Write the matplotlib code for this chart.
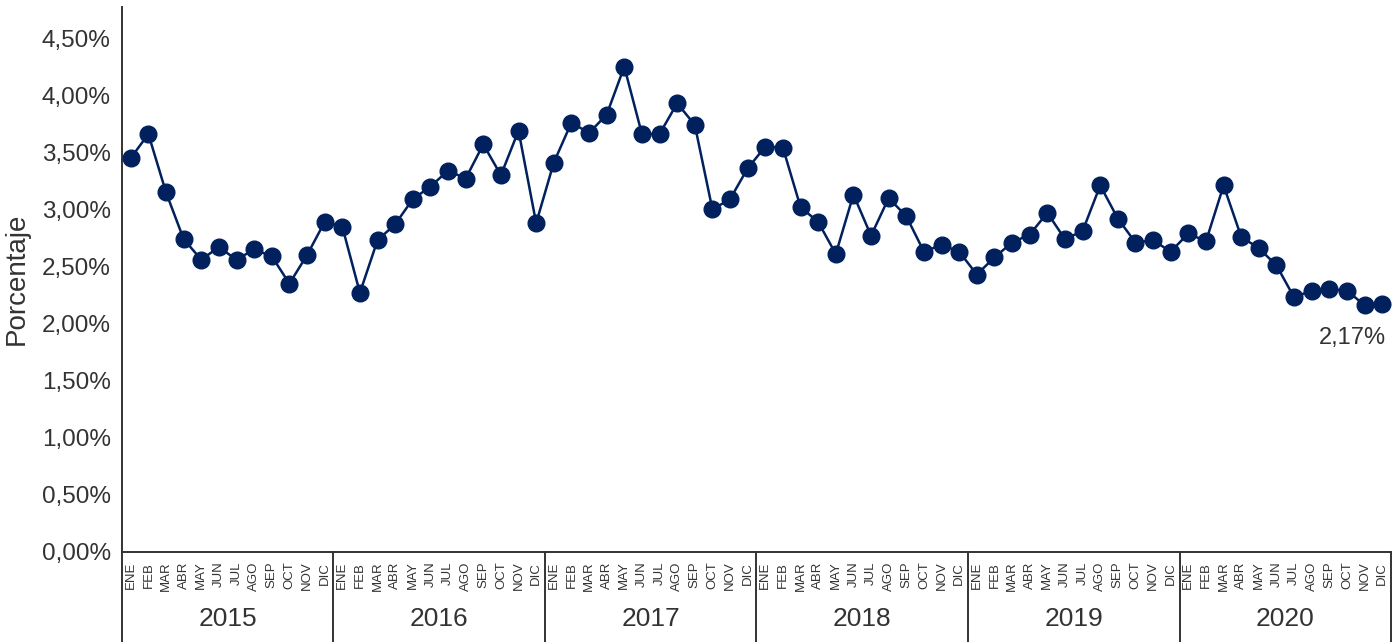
import matplotlib
matplotlib.use("Agg")
import matplotlib.pyplot as plt
from matplotlib.ticker import FuncFormatter

plt.rcParams['font.family'] = ['Liberation Sans', 'DejaVu Sans']

# tasa mensual (%) 2015-2020
years = ['2015', '2016', '2017', '2018', '2019', '2020']
months = ['ENE', 'FEB', 'MAR', 'ABR', 'MAY', 'JUN',
          'JUL', 'AGO', 'SEP', 'OCT', 'NOV', 'DIC']
v2015 = [3.45, 3.66, 3.15, 2.74, 2.56, 2.67, 2.56, 2.65, 2.59, 2.35, 2.60, 2.89]
v2016 = [2.85, 2.27, 2.73, 2.87, 3.09, 3.20, 3.34, 3.27, 3.57, 3.30, 3.69, 2.88]
v2017 = [3.41, 3.76, 3.67, 3.83, 4.25, 3.66, 3.66, 3.93, 3.74, 3.00, 3.09, 3.36]
v2018 = [3.55, 3.54, 3.02, 2.89, 2.61, 3.13, 2.77, 3.10, 2.94, 2.63, 2.69, 2.63]
v2019 = [2.43, 2.58, 2.71, 2.78, 2.97, 2.74, 2.81, 3.21, 2.92, 2.71, 2.73, 2.63]
v2020 = [2.79, 2.72, 3.21, 2.76, 2.66, 2.51, 2.23, 2.29, 2.30, 2.29, 2.16, 2.17]

values = v2015 + v2016 + v2017 + v2018 + v2019 + v2020
labels = months * len(years)
idx = list(range(len(values)))

navy = '#00205e'
grey = '#333333'

fig = plt.figure(figsize=(14, 6.42), dpi=100)
ax = fig.add_axes([0.0871, 0.1402, 0.9065, 0.8484])

ax.plot(idx, values, color=navy, lw=1.8, marker='o', markersize=12, clip_on=False, zorder=3)

ax.set_xlim(-0.5, len(values) - 0.5)
ax.set_ylim(0, 4.77)
ax.set_yticks([i * 0.5 for i in range(10)])
ax.yaxis.set_major_formatter(FuncFormatter(lambda v, p: f"{v:.2f}%".replace('.', ',')))
ax.tick_params(axis='y', length=0, pad=8, labelsize=17.5, labelcolor=grey)

ax.set_xticks(idx)
ax.set_xticklabels(labels, rotation=90, fontsize=9.5, color=grey)
ax.tick_params(axis='x', length=0, pad=7)

for s in ['top', 'right']:
    ax.spines[s].set_visible(False)
for s in ['left', 'bottom']:
    ax.spines[s].set_color(grey)
    ax.spines[s].set_linewidth(1.4)

fig.text(17 / 1400, 1 - 279 / 642, 'Porcentaje', rotation=90, ha='center', va='center',
         fontsize=20, color=grey)

# separadores de año y etiquetas
tr = ax.get_xaxis_transform()
ax.plot([-0.5, -0.5], [0, -0.2], transform=tr, color=grey, lw=1.4, clip_on=False)
for k, y in enumerate(years):
    xr = 12 * (k + 1) - 0.5
    ax.plot([xr, xr], [0, -0.2], transform=tr, color=grey, lw=1.4, clip_on=False)
    ax.text(12 * k + 5.5, -0.123, y, transform=tr, ha='center', va='center',
            fontsize=19, color=grey)

# ultimo valor
last = values[-1]
ax.annotate(f"{last:.2f}%".replace('.', ','), xy=(idx[-1], last), xytext=(3, -24),
            textcoords='offset points', ha='right', va='center', fontsize=17, color=grey)

fig.savefig('out.png', dpi=100)
